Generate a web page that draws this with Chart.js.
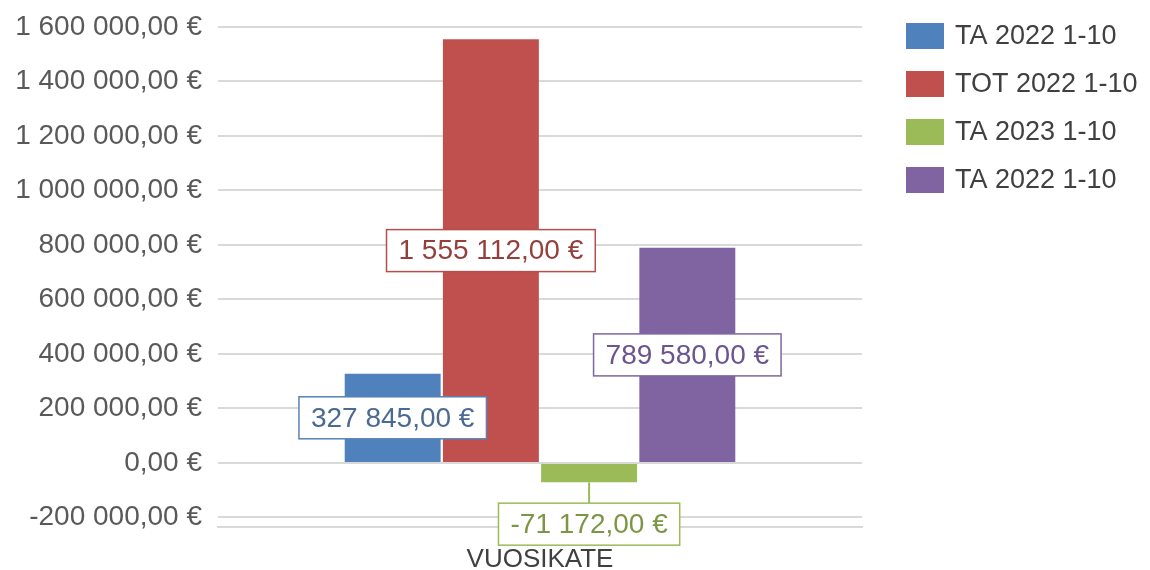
<!DOCTYPE html>
<html>
<head>
<meta charset="utf-8">
<script src="https://cdn.jsdelivr.net/npm/chart.js@4.4.0/dist/chart.umd.min.js"></script>
<style>
  html,body{margin:0;padding:0;background:#fff;}
  #wrap{width:1150px;height:570px;}
</style>
</head>
<body>
<div id="wrap"><canvas id="ch"></canvas></div>
<script>
// data
const categories = ['VUOSIKATE'];
const seriesNames = ['TA 2022 1-10', 'TOT 2022 1-10', 'TA 2023 1-10', 'TA 2022 1-10'];
const seriesValues = [327845, 1555112, -71172, 789580];
const yTicks = [-200000, 0, 200000, 400000, 600000, 800000, 1000000, 1200000, 1400000, 1600000];

const fills = ['#4f81bd', '#c0504d', '#9bbb59', '#8064a2'];
const labelText = ['#4b6a91', '#943f3c', '#7d9646', '#6b5490'];
const labelBorder = ['#5a82b4', '#b44f4c', '#9bbb59', '#7e66a0'];
const FONT = '"Liberation Sans", Arial, sans-serif';

function eur(v){
  const neg = v < 0;
  let [i, d] = Math.abs(v).toFixed(2).split('.');
  i = i.replace(/\B(?=(\d{3})+(?!\d))/g, ' ');
  return (neg ? '-' : '') + i + ',' + d + ' €';
}

// boxed value labels + legend
const boxLabels = {
  id:'boxLabels',
  afterDraw(chart, args, opts){
    const ctx = chart.ctx;
    ctx.save();
    ctx.font = '28px ' + FONT;
    ctx.textAlign = 'center';
    ctx.textBaseline = 'middle';
    chart.data.datasets.forEach((ds, i)=>{
      const bar = chart.getDatasetMeta(i).data[0];
      const txt = eur(ds.data[0]);
      const w = ctx.measureText(txt).width + 24, h = 42;
      const dy = opts.offsets[i] || 0;
      const cx = bar.x, cy = (bar.y + bar.base)/2 + dy;
      if(dy){
        ctx.strokeStyle = labelBorder[i]; ctx.lineWidth = 2;
        ctx.beginPath();
        ctx.moveTo(cx, Math.max(bar.y, bar.base));
        ctx.lineTo(cx, cy - h/2);
        ctx.stroke();
      }
      ctx.fillStyle = '#fff';
      ctx.fillRect(cx - w/2, cy - h/2, w, h);
      ctx.strokeStyle = labelBorder[i]; ctx.lineWidth = 1.5;
      ctx.strokeRect(cx - w/2, cy - h/2, w, h);
      ctx.fillStyle = labelText[i];
      ctx.fillText(txt, cx, cy + 1);
    });
    // legend
    ctx.font = '27px ' + FONT;
    ctx.textAlign = 'left';
    chart.data.datasets.forEach((ds, i)=>{
      const y = 36 + i*48;
      ctx.fillStyle = ds.backgroundColor;
      ctx.fillRect(906, y - 13, 38, 26);
      ctx.fillStyle = '#404040';
      ctx.fillText(ds.label, 955, y + 1);
    });
    ctx.restore();
  }
};

new Chart(document.getElementById('ch'), {
  type:'bar',
  data:{
    labels: categories,
    datasets: seriesNames.map((n, i)=>({ label:n, data:[seriesValues[i]], backgroundColor:fills[i] }))
  },
  options:{
    responsive:true, maintainAspectRatio:false, animation:false,
    layout:{ padding:{ left:0, top:27, right:288, bottom:0 } },
    datasets:{ bar:{ categoryPercentage:0.61, barPercentage:0.977 } },
    scales:{
      x:{
        grid:{ display:false },
        border:{ color:'#d9d9d9', width:2 },
        ticks:{ color:'#404040', font:{ family:FONT, size:26 }, padding:9 },
        afterFit: s => { s.height = 43; s.paddingLeft = 0; s.paddingRight = 0; }
      },
      y:{
        min:-235000, max:1600000,
        grid:{ color:'#d9d9d9', lineWidth:2, drawTicks:false },
        border:{ display:false },
        ticks:{ color:'#595959', font:{ family:FONT, size:28 }, padding:16, callback: v => eur(v) },
        afterBuildTicks: s => { s.ticks = yTicks.map(v=>({ value:v })); },
        afterFit: s => { s.width = 218; s.paddingTop = 0; s.paddingBottom = 0; }
      }
    },
    plugins:{
      legend:{ display:false },
      tooltip:{ enabled:false },
      boxLabels:{ offsets:[0, 0, 51, 0] }
    }
  },
  plugins:[boxLabels]
});
</script>
</body>
</html>
